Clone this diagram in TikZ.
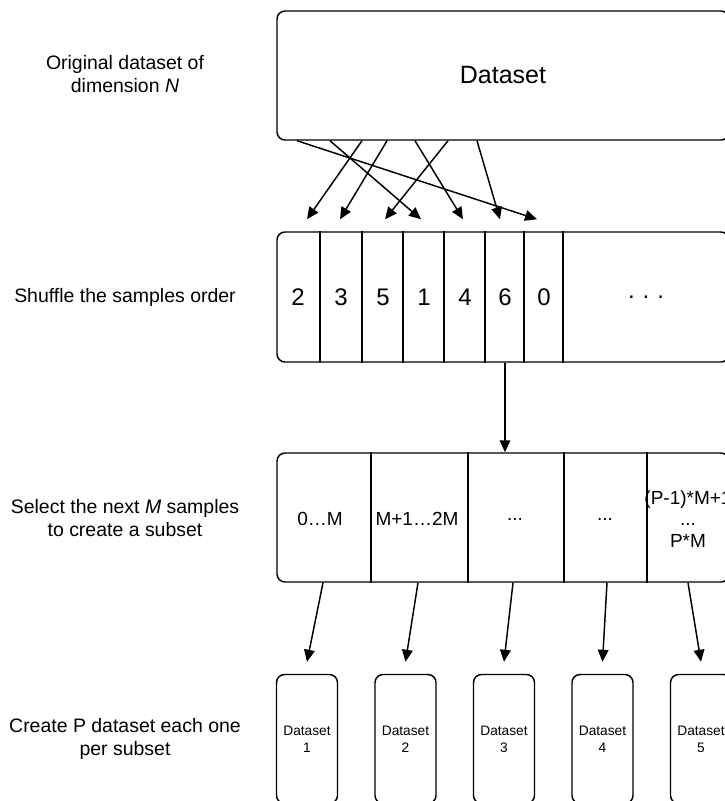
\documentclass[tikz,border=0pt]{standalone}
\usepackage{fontspec}
\setmainfont{Liberation Sans}
\usetikzlibrary{arrows.meta}
\definecolor{dsink}{RGB}{0,0,0}
\definecolor{dspaper}{RGB}{255,255,255}
\tikzset{
	panel/.style={draw=dsink, line width=1.1pt, rounded corners=6pt, minimum width=339pt, minimum height=96.75pt, inner sep=0pt},
	minibox/.style={draw=dsink, line width=1.1pt, rounded corners=6pt, minimum width=45.75pt, minimum height=96.75pt, inner sep=0pt},
	divider/.style={draw=dsink, line width=0.9pt},
	link/.style={draw=dsink, line width=1.1pt, -{Triangle[length=9pt, width=8pt]}},
	steplabel/.style={font=\fontsize{14.6}{16.8}\selectfont, align=center, text=dsink},
	bigtext/.style={font=\fontsize{18.75}{22}\selectfont, text=dsink},
	digit/.style={font=\fontsize{18}{22}\selectfont, text=dsink},
	celltext/.style={font=\fontsize{14.25}{16.2}\selectfont, align=center, text=dsink},
	minitext/.style={font=\fontsize{10.3}{12.6}\selectfont, align=center, text=dsink}
}

\begin{document}
\begin{tikzpicture}[x=0.75pt,y=-0.75pt]
	
	\useasboundingbox (0,0) rectangle (725,801);
	\clip (0,0) rectangle (725,801);
	\fill[dspaper] (0,0) rectangle (725,801);
	
	% step labels
	\node[steplabel] (lorig) at (125,74) {Original dataset of\\dimension \textit{N}};
	\node[steplabel] (lshuf) at (125,297) {Shuffle the samples order};
	\node[steplabel] (lsel) at (125,518) {Select the next \textit{M} samples\\to create a subset};
	\node[steplabel] (lmake) at (125,739) {Create P dataset each one\\per subset};
	
	% original dataset
	\node[panel, minimum height=96.75pt] (data) at (503,75.5) {};
	\node[bigtext] (datatext) at (503,75.5) {Dataset};
	
	% shuffled row
	\node[panel, minimum height=97.5pt] (shuf) at (503,297) {};
	\foreach \x in {320,362,403,444,485,524,563}
	\draw[divider] (\x,0 |- shuf.north) -- (\x,0 |- shuf.south);
	\foreach \d/\x in {2/298,3/341,5/383,1/424,4/465,6/505,0/544}
	\node[digit] (cell\d) at (\x,297) {\d};
	\node[digit] (cellrest) at (646,297) {.\,\,.\,\,.};
	
	\foreach \i/\x/\t in {0/297/537,1/330/421,2/362/307,3/387/340,4/415/463,5/448/385,6/477/500}{
		\coordinate (src\i) at (\x,0 |- data.south);
		\coordinate (dst\i) at (\t,0 |- shuf.north);
		\draw[link] (src\i) -- ([yshift=9pt]dst\i);
	}
	
	% subsets
	\node[panel] (subrow) at (503,517.5) {};
	\foreach \x in {371,468,564,647}
	\draw[divider] (\x,0 |- subrow.north) -- (\x,0 |- subrow.south);
	\node[celltext] (sub1) at (320,519) {0…M};
	\node[celltext] (sub2) at (417,519) {M+1…2M};
	\node[celltext] (sub3) at (515,519) {...};
	\node[celltext] (sub4) at (605,519) {...};
	\node[celltext] (sub5) at (688,519) {(P-1)*M+1\\...\\P*M};
	
	\draw[link] (shuf.south -| cell6) -- (subrow.north -| cell6);
	
	% new datasets
	\foreach \i/\x/\s in {1/307/323,2/405.5/418,3/504/513,4/602.5/607,5/701/688}{
		\node[minibox] (mini\i) at (\x,739) {};
		\node[minitext] (minitext\i) at (\x,739) {Dataset\\\i};
		\coordinate (cut\i) at (\s,0 |- subrow.south);
		\draw[link] (cut\i) -- ([yshift=9pt]mini\i.north);
	}
	
\end{tikzpicture}
\end{document}
